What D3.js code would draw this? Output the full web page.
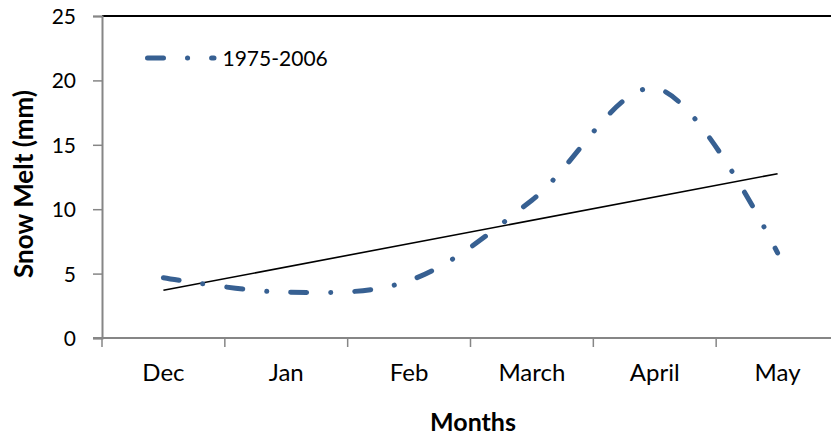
<!DOCTYPE html>
<html>
<head>
<meta charset="utf-8">
<script src="https://cdn.jsdelivr.net/npm/d3@7"></script>
<style>
  html, body { margin: 0; padding: 0; background: #fff; }
  svg { display: block; font-family: Lato, "Open Sans", sans-serif; }
</style>
</head>
<body>
<div id="chart"></div>
<script>
const months = ["Dec", "Jan", "Feb", "March", "April", "May"];
const snowMelt = [4.68, 3.55, 4.45, 10.7, 19.4, 6.6];
const yTicks = [0, 5, 10, 15, 20, 25];
const seriesName = "1975-2006";

const W = 831, H = 438;
const plot = { left: 102, right: 839, top: 16, bottom: 338 };

const svg = d3.select("#chart").append("svg").attr("width", W).attr("height", H);

const x = d3.scaleBand().domain(months).range([plot.left, plot.right]).padding(0);
const cx = d => x(d) + x.bandwidth() / 2;
const y = d3.scaleLinear().domain([0, 25]).range([plot.bottom, plot.top]);

const axisColor = "#868686";

// top border of plot area
svg.append("line")
  .attr("x1", plot.left).attr("x2", plot.right)
  .attr("y1", plot.top).attr("y2", plot.top)
  .attr("stroke", "#000").attr("stroke-width", 1.8);

// Y axis
const yAxis = svg.append("g")
  .attr("transform", `translate(${plot.left},0)`)
  .call(d3.axisLeft(y).tickValues(yTicks).tickSize(9).tickPadding(17).tickFormat(d3.format("d")));
yAxis.select(".domain").attr("stroke", axisColor).attr("stroke-width", 2);
yAxis.selectAll(".tick line").attr("stroke", axisColor).attr("stroke-width", 1.5);
yAxis.selectAll(".tick text").attr("font-size", 21).attr("fill", "#000")
  .attr("font-family", "Lato, sans-serif").attr("dy", "0.36em");

// X axis
const xAxis = svg.append("g")
  .attr("transform", `translate(0,${plot.bottom})`)
  .call(d3.axisBottom(x).tickSize(0));
xAxis.select(".domain").remove();
xAxis.selectAll(".tick text").attr("font-size", 24).attr("fill", "#000")
  .attr("font-family", "Lato, sans-serif").attr("y", 43).attr("dy", 0);
svg.append("line")
  .attr("x1", plot.left - 9).attr("x2", plot.right)
  .attr("y1", plot.bottom).attr("y2", plot.bottom)
  .attr("stroke", axisColor).attr("stroke-width", 2);
svg.append("g").selectAll("line")
  .data(d3.range(months.length + 1))
  .join("line")
  .attr("x1", i => plot.left + i * x.step()).attr("x2", i => plot.left + i * x.step())
  .attr("y1", plot.bottom).attr("y2", plot.bottom + 9)
  .attr("stroke", axisColor).attr("stroke-width", 1.5);

// Linear trend line (least squares on the series)
const idx = d3.range(snowMelt.length);
const mx = d3.mean(idx), my = d3.mean(snowMelt);
const slope = d3.sum(idx, i => (i - mx) * (snowMelt[i] - my)) / d3.sum(idx, i => (i - mx) ** 2);
const intercept = my - slope * mx;
svg.append("line")
  .attr("x1", cx(months[0])).attr("y1", y(intercept))
  .attr("x2", cx(months[months.length - 1])).attr("y2", y(intercept + slope * (months.length - 1)))
  .attr("stroke", "#000").attr("stroke-width", 1.6);

// Series (smoothed, long-dash-dot)
const dash = "16,24,0.1,24";
const seriesColor = "#376092";
const line = d3.line().x((d, i) => cx(months[i])).y(d => y(d)).curve(d3.curveCatmullRom.alpha(0.5));
svg.append("path")
  .datum(snowMelt)
  .attr("d", line)
  .attr("fill", "none")
  .attr("stroke", seriesColor)
  .attr("stroke-width", 5)
  .attr("stroke-linecap", "round")
  .attr("stroke-dasharray", dash);

// Legend
const lg = svg.append("g");
lg.append("line")
  .attr("x1", 147.5).attr("x2", 214).attr("y1", 58).attr("y2", 58)
  .attr("stroke", seriesColor).attr("stroke-width", 5)
  .attr("stroke-linecap", "round").attr("stroke-dasharray", dash);
lg.append("text").attr("x", 222.5).attr("y", 66)
  .attr("font-size", 21).text(seriesName);

// Axis titles
svg.append("text")
  .attr("transform", `translate(33,${(plot.top + plot.bottom) / 2 + 7}) rotate(-90)`)
  .attr("text-anchor", "middle").attr("font-size", 26).attr("font-weight", "bold")
  .text("Snow Melt (mm)");
svg.append("text")
  .attr("x", 473).attr("y", 431)
  .attr("text-anchor", "middle").attr("font-size", 25).attr("font-weight", "bold")
  .text("Months");
</script>
</body>
</html>
